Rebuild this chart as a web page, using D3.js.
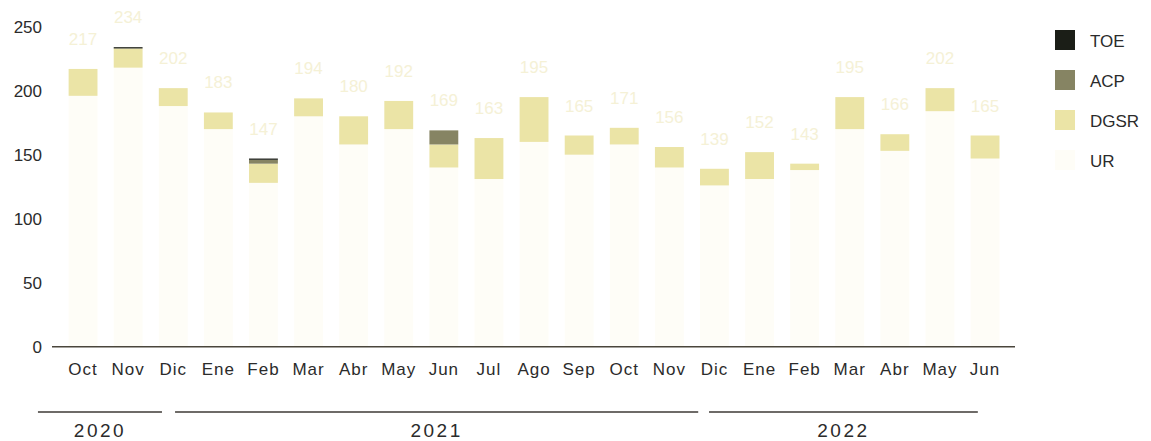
<!DOCTYPE html>
<html>
<head>
<meta charset="utf-8">
<script src="https://cdn.jsdelivr.net/npm/d3@7"></script>
<style>
    body { margin: 0; background: #fff; }
    text { font-family: "Liberation Sans", Arial, sans-serif; }
</style>
</head>
<body>
<div id="svgHolder"></div>
<script>
// months shown on the x axis (Oct 2020 .. Jun 2022)
var months = ["Oct", "Nov", "Dic", "Ene", "Feb", "Mar", "Abr", "May", "Jun", "Jul", "Ago",
    "Sep", "Oct", "Nov", "Dic", "Ene", "Feb", "Mar", "Abr", "May", "Jun"];

// series values, stacked bottom -> top: UR, DGSR, ACP, TOE
var UR   = [196, 218, 188, 170, 128, 180, 158, 170, 140, 131, 160, 150, 158, 140, 126, 131, 138, 170, 153, 184, 147];
var DGSR = [21, 15, 14, 13, 15, 14, 22, 22, 18, 32, 35, 15, 13, 16, 13, 21, 5, 25, 13, 18, 18];
var ACP  = [0, 0, 0, 0, 3, 0, 0, 0, 11, 0, 0, 0, 0, 0, 0, 0, 0, 0, 0, 0, 0];
var TOE  = [0, 1, 0, 0, 1, 0, 0, 0, 0, 0, 0, 0, 0, 0, 0, 0, 0, 0, 0, 0, 0];

var yTicks = [0, 50, 100, 150, 200, 250];

// year brackets below the axis, in month-index units
var years = ["2020", "2021", "2022"];
var yearFrom = [-1.0, 2.04, 13.88];
var yearTo = [1.75, 13.64, 19.84];

var seriesKeys = ["UR", "DGSR", "ACP", "TOE"];
var legendKeys = ["TOE", "ACP", "DGSR", "UR"];
var colors = {
    TOE: "#1b1e17",
    ACP: "#868463",
    DGSR: "#ebe4a6",
    UR: "#fefdf7"
};

var rows = months.map(function (m, i) {
    return { i: i, month: m, UR: UR[i], DGSR: DGSR[i], ACP: ACP[i], TOE: TOE[i] };
});

var width = 1151, height = 441;

var svg = d3.select("#svgHolder")
    .append("svg")
    .attr("width", width)
    .attr("height", height);

var x = d3.scaleBand()
    .domain(d3.range(months.length))
    .range([60.5, 60.5 + 21 * 45.1])
    .paddingInner(0.36)
    .paddingOuter(0.18);

var y = d3.scaleLinear()
    .domain([0, 250])
    .range([346.7, 26.7]);

// index -> pixel centre, used for the year brackets
var xi = function (d) { return x(0) + x.bandwidth() / 2 + d * x.step(); };

var stack = d3.stack().keys(seriesKeys);
var layers = stack(rows);

svg.append("g")
    .selectAll("g")
    .data(layers)
    .enter().append("g")
    .attr("fill", function (d) { return colors[d.key]; })
    .selectAll("rect")
    .data(function (d) { return d; })
    .enter().append("rect")
    .attr("x", function (d) { return x(d.data.i); })
    .attr("width", x.bandwidth())
    .attr("y", function (d) { return y(d[1]); })
    .attr("height", function (d) { return y(d[0]) - y(d[1]); });

// totals above each bar
svg.append("g")
    .selectAll("text")
    .data(rows)
    .enter().append("text")
    .attr("x", function (d) { return x(d.i) + x.bandwidth() / 2; })
    .attr("y", function (d) { return y(d.UR + d.DGSR + d.ACP + d.TOE) - 24; })
    .attr("text-anchor", "middle")
    .attr("font-size", 17)
    .attr("fill", "#f5f1d6")
    .text(function (d) { return d.UR + d.DGSR + d.ACP + d.TOE; });

// y axis: labels only
var yAxis = d3.axisLeft(y).tickValues(yTicks).tickSize(0).tickPadding(0);
svg.append("g")
    .attr("transform", "translate(42,0)")
    .call(yAxis)
    .call(function (g) { g.select(".domain").remove(); })
    .selectAll("text")
    .attr("font-family", "Liberation Sans, Arial, sans-serif")
    .attr("font-size", 17)
    .attr("fill", "#2b2b2b")
    .attr("dy", "0.35em");

// baseline
svg.append("line")
    .attr("x1", 52)
    .attr("x2", 1015)
    .attr("y1", y(0))
    .attr("y2", y(0))
    .attr("stroke", "#4a463c")
    .attr("stroke-width", 1.6);

// x axis: month labels
var xAxis = d3.axisBottom(x).tickFormat(function (i) { return months[i]; }).tickSize(0).tickPadding(0);
svg.append("g")
    .attr("transform", "translate(0,363)")
    .call(xAxis)
    .call(function (g) { g.select(".domain").remove(); })
    .selectAll("text")
    .attr("font-family", "Liberation Sans, Arial, sans-serif")
    .attr("font-size", 17)
    .attr("letter-spacing", "1px")
    .attr("fill", "#2b2b2b")
    .attr("dy", "0.71em");

// year brackets
var yg = svg.append("g").selectAll("g")
    .data(years)
    .enter().append("g");

yg.append("line")
    .attr("x1", function (d, k) { return xi(yearFrom[k]); })
    .attr("x2", function (d, k) { return xi(yearTo[k]); })
    .attr("y1", 412)
    .attr("y2", 412)
    .attr("stroke", "#3e3a36")
    .attr("stroke-width", 1.6);

yg.append("text")
    .attr("x", function (d, k) { return (xi(yearFrom[k]) + xi(yearTo[k])) / 2; })
    .attr("y", 437)
    .attr("text-anchor", "middle")
    .attr("font-family", "Open Sans, sans-serif")
    .attr("font-size", 19)
    .attr("letter-spacing", "2.5px")
    .attr("fill", "#2b2b2b")
    .text(function (d) { return d; });

// legend
var legend = svg.append("g")
    .selectAll("g")
    .data(legendKeys)
    .enter().append("g")
    .attr("transform", function (d, k) { return "translate(1055," + (30 + k * 40) + ")"; });

legend.append("rect")
    .attr("width", 20)
    .attr("height", 20)
    .attr("fill", function (d) { return colors[d]; });

legend.append("text")
    .attr("x", 35)
    .attr("y", 16.5)
    .attr("font-size", 17)
    .attr("fill", "#2b2b2b")
    .text(function (d) { return d; });
</script>
</body>
</html>
